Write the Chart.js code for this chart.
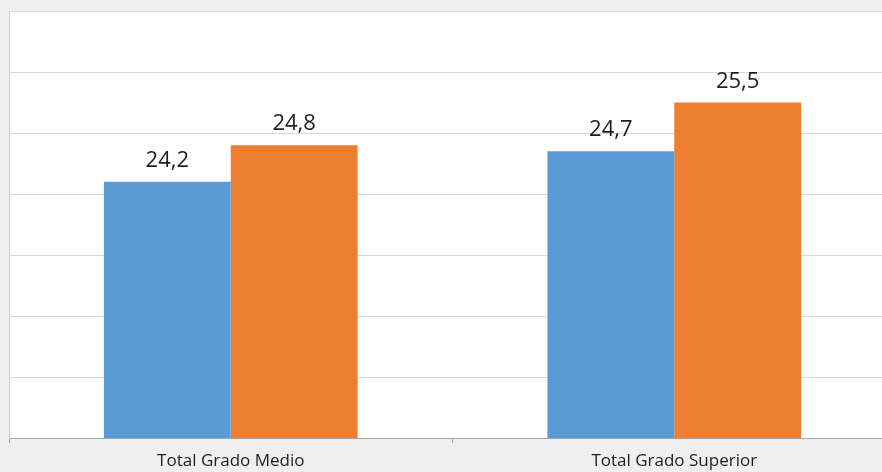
<!DOCTYPE html>
<html>
<head>
<meta charset="utf-8">
<script src="https://cdn.jsdelivr.net/npm/chart.js@4.4.1/dist/chart.umd.min.js"></script>
<style>
  html, body { margin: 0; padding: 0; background: #efefef; overflow: hidden; }
  .chart--box { position: relative; width: 900px; height: 472px; }
</style>
</head>
<body>
<div class="chart--box"><canvas class="myChart"></canvas></div>
<script>
// chart values
const categories = ['Total Grado Medio', 'Total Grado Superior'];
const seriesBlue = [24.2, 24.7];
const seriesOrange = [24.8, 25.5];
const yMin = 20;
const yMax = 27;
const yStep = 1;

const ctx = document.querySelector('.myChart').getContext('2d');

// white background behind the plot area
const plotBg = {
  id: 'plotBg',
  beforeDraw(chart) {
    const { ctx, chartArea } = chart;
    ctx.save();
    ctx.fillStyle = '#ffffff';
    ctx.fillRect(chartArea.left, chartArea.top, chartArea.right - chartArea.left, chartArea.bottom - chartArea.top);
    ctx.restore();
  },
};

// value labels above the bars, comma as decimal mark
const valueLabels = {
  id: 'valueLabels',
  afterDatasetsDraw(chart) {
    const { ctx } = chart;
    ctx.save();
    ctx.font = '22px "Open Sans"';
    ctx.fillStyle = '#1e1e1e';
    ctx.textAlign = 'center';
    ctx.textBaseline = 'alphabetic';
    chart.data.datasets.forEach((ds, i) => {
      chart.getDatasetMeta(i).data.forEach((bar, j) => {
        const txt = ds.data[j].toFixed(1).replace('.', ',');
        ctx.fillText(txt, bar.x, bar.y - 15);
      });
    });
    ctx.restore();
  },
};

const configChart = {
  type: 'bar',
  data: {
    labels: categories,
    datasets: [
      {
        label: 'Serie 1',
        data: seriesBlue,
        backgroundColor: '#5b9bd5',
        borderWidth: 0,
        barPercentage: 1,
        categoryPercentage: 0.572,
      },
      {
        label: 'Serie 2',
        data: seriesOrange,
        backgroundColor: '#ed7d31',
        borderWidth: 0,
        barPercentage: 1,
        categoryPercentage: 0.572,
      },
    ],
  },
  options: {
    responsive: true,
    maintainAspectRatio: false,
    animation: false,
    devicePixelRatio: 1,
    layout: {
      padding: { left: 9, top: 11, right: 4, bottom: 0 },
    },
    plugins: {
      legend: { display: false },
      tooltip: { enabled: false },
    },
    scales: {
      x: {
        afterFit(scale) { scale.height = 34; },
        grid: {
          offset: true,
          drawOnChartArea: false,
          tickLength: 5,
          color: '#a6a6a6',
        },
        border: { color: '#a6a6a6', width: 1 },
        ticks: {
          color: '#1e1e1e',
          font: { family: 'Open Sans', size: 17 },
          padding: 8,
        },
      },
      y: {
        min: yMin,
        max: yMax,
        afterFit(scale) { scale.width = 0; },
        ticks: { display: false, stepSize: yStep },
        grid: { color: '#d9d9d9', drawTicks: false },
        border: { color: '#d0d0d0' },
      },
    },
  },
  plugins: [plotBg, valueLabels],
};

const myChart = new Chart(ctx, configChart);
</script>
</body>
</html>
